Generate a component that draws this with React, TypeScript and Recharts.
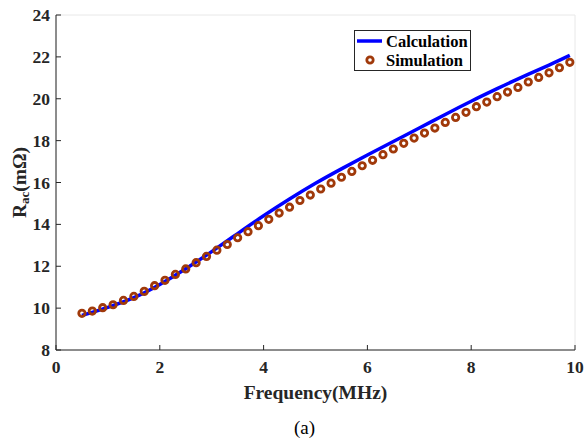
import React from "react";
import {
  ComposedChart,
  Line,
  Scatter,
  XAxis,
  YAxis,
  CartesianGrid,
  Legend,
} from "recharts";

const calcFreq = [0.5, 1, 1.5, 2, 2.5, 3, 3.5, 4, 4.5, 5, 5.5, 6, 6.5, 7, 7.5, 8, 8.5, 9, 9.5, 9.9];
const calcRac = [9.65, 10.04, 10.5, 11.13, 11.88, 12.7, 13.56, 14.41, 15.21, 15.96, 16.65, 17.31, 17.96, 18.6, 19.25, 19.88, 20.48, 21.06, 21.61, 22.07];

const simFreq = [
  0.5, 0.7, 0.9, 1.1, 1.3, 1.5, 1.7, 1.9, 2.1, 2.3, 2.5, 2.7, 2.9, 3.1, 3.3, 3.5,
  3.7, 3.9, 4.1, 4.3, 4.5, 4.7, 4.9, 5.1, 5.3, 5.5, 5.7, 5.9, 6.1, 6.3, 6.5, 6.7,
  6.9, 7.1, 7.3, 7.5, 7.7, 7.9, 8.1, 8.3, 8.5, 8.7, 8.9, 9.1, 9.3, 9.5, 9.7, 9.9,
];
const simRac = [
  9.75, 9.86, 10.02, 10.16, 10.37, 10.56, 10.8, 11.07, 11.33, 11.61, 11.87, 12.17, 12.47, 12.77, 13.04, 13.36,
  13.65, 13.94, 14.24, 14.54, 14.82, 15.14, 15.4, 15.69, 15.97, 16.25, 16.53, 16.8, 17.06, 17.33, 17.6, 17.87,
  18.12, 18.36, 18.6, 18.87, 19.11, 19.35, 19.62, 19.84, 20.1, 20.32, 20.54, 20.8, 21.02, 21.24, 21.48, 21.74,
];

const xTicks = [0, 2, 4, 6, 8, 10];
const yTicks = [8, 10, 12, 14, 16, 18, 20, 22, 24];

const calcData = calcFreq.map((f, i) => ({ f, r: calcRac[i] }));
const simData = simFreq.map((f, i) => ({ f, r: simRac[i] }));

const AXIS = "#262626";
const BLUE = "#0000ff";
const RUST = "#a0390a";
const FONT = "Liberation Serif";

const BottomTick = (p: any) => (
  <g>
    <line x1={p.x} x2={p.x} y1={p.y} y2={p.y - 5} stroke={AXIS} />
    <text x={p.x} y={p.y + 17} textAnchor="middle" dominantBaseline="central"
      fontFamily={FONT} fontWeight="bold" fontSize={17.5} fill={AXIS}>
      {p.payload.value}
    </text>
  </g>
);

const LeftTick = (p: any) => (
  <g>
    <line x1={p.x} x2={p.x + 5} y1={p.y} y2={p.y} stroke={AXIS} />
    <text x={p.x - 6} y={p.y} textAnchor="end" dominantBaseline="central"
      fontFamily={FONT} fontWeight="bold" fontSize={17.5} fill={AXIS}>
      {p.payload.value}
    </text>
  </g>
);

const TopTick = (p: any) => (
  <line x1={p.x} x2={p.x} y1={p.y} y2={p.y + 5} stroke={AXIS} />
);

const RightTick = (p: any) => (
  <line x1={p.x} x2={p.x - 5} y1={p.y} y2={p.y} stroke={AXIS} />
);

const SimDot = (p: any) => (
  <circle cx={p.cx} cy={p.cy} r={3.2} fill="none" stroke={RUST} strokeWidth={2.8} />
);

const renderLegend = () => (
  <svg width={118} height={42} style={{ display: "block" }}>
    <rect x={0.5} y={0.5} width={116} height={40} fill="#fff" stroke={AXIS} strokeWidth={1} />
    <line x1={3} x2={28} y1={11} y2={11} stroke={BLUE} strokeWidth={3.5} />
    <text x={32} y={11} dominantBaseline="central" fontFamily={FONT} fontWeight="bold" fontSize={16.5} fill="#000">
      Calculation
    </text>
    <circle cx={16} cy={30} r={3.2} fill="none" stroke={RUST} strokeWidth={2.8} />
    <text x={32} y={30} dominantBaseline="central" fontFamily={FONT} fontWeight="bold" fontSize={16.5} fill="#000">
      Simulation
    </text>
  </svg>
);

const XLabel = (props: any) => {
  const { x, y, width } = props.viewBox;
  const cx = x + width / 2;
  return (
    <g>
      <text x={cx} y={y + 42} textAnchor="middle" dominantBaseline="central"
        fontFamily={FONT} fontWeight="bold" fontSize={19.5} fill={AXIS}>
        Frequency(MHz)
      </text>
      <text x={cx - 11} y={y + 77} textAnchor="middle" dominantBaseline="central"
        fontFamily={FONT} fontSize={19} fill="#000">
        (a)
      </text>
    </g>
  );
};

const YLabel = (props: any) => {
  const { y, height } = props.viewBox;
  const cx = 19;
  const cy = y + height / 2;
  return (
    <text x={cx} y={cy} transform={`rotate(-90 ${cx} ${cy})`} textAnchor="middle" dominantBaseline="central"
      fontFamily={FONT} fontWeight="bold" fontSize={19.5} fill={AXIS}>
      R<tspan fontSize={13} dy={5}>ac</tspan><tspan dy={-5}>(mΩ)</tspan>
    </text>
  );
};

export default function App() {
  return (
    <div style={{ position: "absolute", left: 0, top: 0, width: 586, height: 440, background: "#fff" }}>
      <ComposedChart width={586} height={440} margin={{ top: 15, right: 11, left: 0, bottom: 0 }}>
        <CartesianGrid stroke="#e8e8e8" strokeWidth={1} />
        <XAxis xAxisId="b" dataKey="f" type="number" domain={[0, 10]} ticks={xTicks} height={90}
          axisLine={{ stroke: AXIS }} tickLine={false} tickSize={0} tickMargin={0}
          tick={<BottomTick />} label={<XLabel />} allowDataOverflow />
        <XAxis xAxisId="t" orientation="top" dataKey="f" type="number" domain={[0, 10]} ticks={xTicks} height={0}
          axisLine={{ stroke: AXIS }} tickLine={false} tickSize={0} tickMargin={0} tick={<TopTick />} />
        <YAxis yAxisId="l" dataKey="r" type="number" domain={[8, 24]} ticks={yTicks} width={56}
          axisLine={{ stroke: AXIS }} tickLine={false} tickSize={0} tickMargin={0}
          tick={<LeftTick />} label={<YLabel />} allowDataOverflow />
        <YAxis yAxisId="r" orientation="right" dataKey="r" type="number" domain={[8, 24]} ticks={yTicks} width={0}
          axisLine={{ stroke: AXIS }} tickLine={false} tickSize={0} tickMargin={0} tick={<RightTick />} />
        <Line xAxisId="b" yAxisId="l" data={calcData} dataKey="r" type="natural" stroke={BLUE} strokeWidth={3.5}
          dot={false} isAnimationActive={false} name="Calculation" />
        <Scatter xAxisId="b" yAxisId="l" data={simData} dataKey="r" shape={<SimDot />}
          isAnimationActive={false} name="Simulation" />
        <Legend content={renderLegend} layout="horizontal" verticalAlign="middle" align="center"
          wrapperStyle={{ left: 354, top: 30, width: 118, height: 42 }} />
      </ComposedChart>
    </div>
  );
}
